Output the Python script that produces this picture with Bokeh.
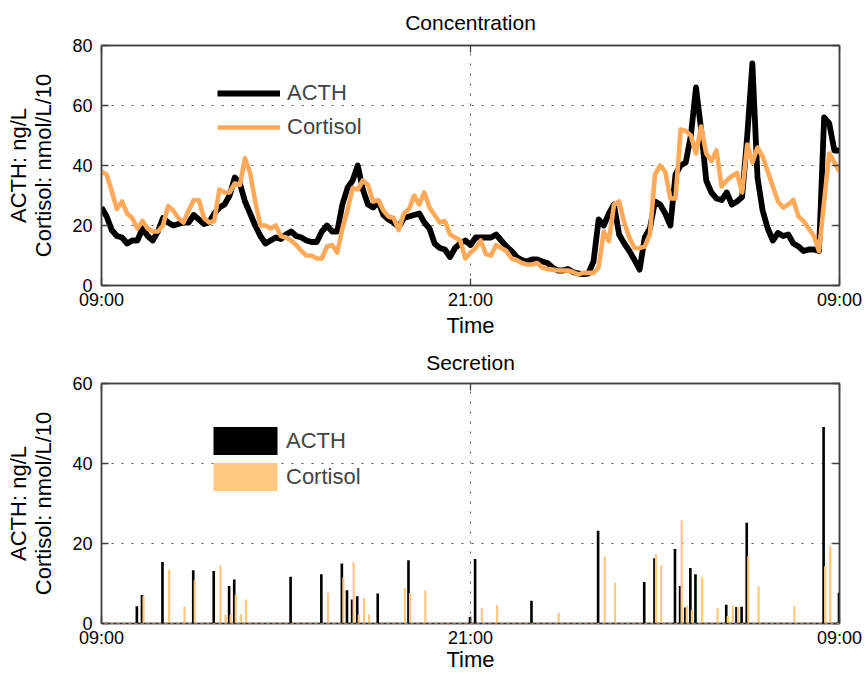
import numpy as np
from bokeh.plotting import figure
from bokeh.models import (Range1d, FixedTicker, LinearAxis, Legend, LegendItem, Span,
                          ColumnDataSource)
from bokeh.layouts import column
from bokeh.embed import file_html
from bokeh.resources import INLINE

FONT = "Liberation Sans"

# ---------------- data ----------------
tick_hours = [0, 12, 24]
tick_labels = ["09:00", "21:00", "09:00"]

# concentration samples every 10 minutes from 09:00 to 09:00
conc_minutes = list(range(0, 1441, 10))

acth_conc = [
    26, 23, 18.5, 16.5, 16, 14, 15, 15, 19, 16.5, 15, 18,
    22.5, 21, 20, 20.5, 21, 21, 23.5, 22, 20.5, 21, 24, 26,
    27, 30, 36, 34, 28, 24, 20, 16.5, 14, 15, 16, 15.5,
    17, 18, 16.5, 16, 15, 14.5, 14.5, 18, 20, 18, 18, 27,
    32.5, 35, 40, 32, 27, 26, 28, 23.5, 22, 21, 19.5, 22.5,
    23, 23.5, 24, 21, 19, 14, 12.5, 12, 9.5, 12.5, 14, 15,
    13.5, 16, 16, 16, 16, 17, 15, 13, 11.5, 9.5, 8.5, 8,
    8.7, 8.7, 8, 7.5, 6, 5, 5, 5.5, 4.5, 4, 3.8, 4,
    8, 22, 20, 24, 27, 17, 14, 11.5, 8.5, 5.3, 16, 19,
    28, 27, 24, 20, 37, 40, 41, 50, 66, 52, 35, 31,
    29, 28.5, 31, 27, 28, 29.5, 50, 74, 36, 25, 19, 15,
    17.5, 16.5, 17, 14, 13, 11.5, 12, 12, 11.5, 56, 54, 45,
    45,
]

cort_conc = [
    38, 37, 31.5, 25.5, 28, 24, 22.5, 19, 21.5, 19, 18, 18,
    20, 26.5, 25, 22.5, 21, 25, 28.5, 28.5, 22.5, 21, 21.5, 32,
    31, 31, 34, 33.5, 42.5, 37.5, 28, 20, 20, 19, 20, 16.5,
    16, 15, 13.5, 11.5, 10, 10, 9, 9, 13, 13.5, 11, 19,
    25, 32.5, 32, 35, 33.5, 28, 28.5, 25, 23, 22.5, 18.5, 24,
    25.5, 30, 27, 31, 26, 23.5, 21, 21.5, 17, 16, 15, 9,
    11, 12.5, 15, 10.5, 10, 13.5, 12.5, 11.5, 9, 8.5, 7.5, 7,
    7, 7.5, 6, 5.5, 5.3, 5, 5, 5, 4.5, 3.7, 4.2, 4.2,
    4.2, 6, 18, 14.8, 27, 28, 21, 16, 12.5, 12.5, 13, 17,
    37, 40, 38, 29, 29, 52, 51.5, 50, 44, 53, 44, 41.5,
    45, 33, 35, 36.5, 37.5, 31, 47, 41, 46, 43, 38, 33,
    28, 26, 27, 28.5, 23, 21.5, 19, 16.5, 11.5, 28, 44, 41,
    38,
]

# secretion pulses (minutes after 09:00, amplitude)
acth_sec_min = [70, 80, 120, 180, 220, 250, 260, 370, 430, 470, 480, 490, 500, 540, 600,
                720, 730, 840, 970, 1060, 1080, 1120, 1130, 1140, 1150, 1160, 1220, 1240,
                1250, 1260, 1410, 1440]
acth_sec = [4.3, 7.1, 15.4, 13.3, 13.1, 9.4, 11, 11.7, 12.3, 15, 8.3, 6, 6.8, 7.5, 15.8,
            1.6, 16.1, 5.7, 23.2, 10.4, 16.3, 18.6, 9.4, 4, 13.9, 12.3, 4.7, 4.1,
            4.2, 25.2, 49.1, 7.7]

cort_sec_min = [80, 130, 160, 180, 230, 240, 250, 260, 270, 280, 440, 470, 490, 500, 510,
                520, 590, 600, 630, 740, 770, 890, 980, 1000, 1080, 1090, 1130, 1140, 1150,
                1170, 1200, 1220, 1230, 1240, 1260, 1280, 1350, 1410, 1420]
cort_sec = [6.8, 13.5, 4.2, 10.8, 14.5, 2.3, 2.1, 7.2, 2.3, 6, 7.7, 11.5, 15.3, 2.2, 6.4,
            2.3, 8.9, 7.6, 8.3, 3.9, 4.6, 2.7, 16.7, 10.2, 17.4, 14.5, 25.8, 4.4, 3.3,
            11.5, 3.9, 1.9, 4.4, 4.1, 16.8, 9.3, 4.3, 14.3, 19.3]

ACTH_COLOR = "black"
CORT_LINE = "#FFAA5A"
CORT_BAR = "#FFC97F"
FRAME = "#404040"
GRID = "#555555"


def side_axis(ticks):
    # tick marks only (labels hidden)
    return LinearAxis(ticker=FixedTicker(ticks=ticks), major_label_text_font_size="1px",
                      major_label_text_color=None, major_label_standoff=0,
                      major_tick_in=7, major_tick_out=0, minor_tick_line_color=None,
                      axis_line_color=FRAME, axis_line_width=1.5,
                      major_tick_line_color=FRAME, major_tick_line_width=1.3)


def make_fig(title, ymax, yticks, height, btop, bbottom, xlabel_standoff, title_standoff):
    p = figure(width=865, height=height, x_range=Range1d(0, 24), y_range=Range1d(0, ymax),
               output_backend="svg", toolbar_location=None, title=title,
               min_border_left=101, min_border_right=26,
               min_border_top=btop, min_border_bottom=bbottom)
    p.title.align = "center"
    p.title.vertical_align = "top"
    p.title.text_font = FONT
    p.title.text_font_size = "21px"
    p.title.text_font_style = "normal"
    p.title.text_color = "black"
    p.title.standoff = title_standoff
    p.outline_line_color = FRAME
    p.outline_line_width = 1.5
    p.background_fill_color = "white"
    p.border_fill_color = "white"

    xax = p.xaxis[0]
    xax.ticker = FixedTicker(ticks=tick_hours)
    xax.major_label_overrides = {h: l for h, l in zip(tick_hours, tick_labels)}
    xax.axis_label = "Time"
    yax = p.yaxis[0]
    yax.ticker = FixedTicker(ticks=yticks)
    yax.axis_label = "Cortisol: nmol/L/10"
    for ax in (xax, yax):
        ax.major_tick_in = 7
        ax.major_tick_out = 0
        ax.minor_tick_line_color = None
        ax.axis_line_color = FRAME
        ax.axis_line_width = 1.5
        ax.major_tick_line_color = FRAME
        ax.major_tick_line_width = 1.3
        ax.major_label_text_font = FONT
        ax.major_label_text_font_size = "18px"
        ax.major_label_text_color = "black"
        ax.axis_label_text_font = FONT
        ax.axis_label_text_font_size = "22px"
        ax.axis_label_text_font_style = "normal"
        ax.axis_label_text_color = "black"
    xax.major_label_standoff = 4
    xax.axis_label_standoff = xlabel_standoff
    yax.major_label_standoff = 9
    yax.axis_label_standoff = 13

    extra = LinearAxis(ticker=FixedTicker(ticks=[]), axis_label="ACTH: ng/L",
                       axis_line_color=None, major_tick_line_color=None,
                       major_tick_in=0, major_tick_out=0, major_label_standoff=0,
                       minor_tick_line_color=None, major_label_text_font_size="1px",
                       major_label_text_color=None,
                       axis_label_standoff=-2, axis_label_text_font=FONT,
                       axis_label_text_font_size="22px", axis_label_text_font_style="normal",
                       axis_label_text_color="black")
    p.add_layout(extra, "left")
    p.add_layout(side_axis(yticks), "right")
    p.add_layout(side_axis(tick_hours), "above")

    p.xgrid[0].ticker = FixedTicker(ticks=[12])
    p.ygrid[0].ticker = FixedTicker(ticks=[t for t in yticks if 0 < t < ymax])
    for g in (p.xgrid[0], p.ygrid[0]):
        g.grid_line_color = GRID
        g.grid_line_dash = "2 8"
        g.grid_line_width = 1
    return p


# ---------------- concentration ----------------
p1 = make_fig("Concentration", 80, [0, 20, 40, 60, 80], 342, 45, 57, 0, 20)
conc_hours = [m / 60 for m in conc_minutes]
src = ColumnDataSource(dict(t=conc_hours, acth=acth_conc, cort=cort_conc))
r_a = p1.line("t", "acth", source=src, line_color=ACTH_COLOR, line_width=5.8, line_join="round")
r_c = p1.line("t", "cort", source=src, line_color=CORT_LINE, line_width=4.6, line_join="round")
leg1 = Legend(items=[LegendItem(label="ACTH", renderers=[r_a]),
                     LegendItem(label="Cortisol", renderers=[r_c])],
              location=(116, 141), glyph_width=63, glyph_height=34, label_height=34,
              spacing=0, padding=0, margin=0, border_line_color=None,
              background_fill_alpha=0, label_text_font=FONT, label_text_font_size="22px",
              label_standoff=7)
p1.add_layout(leg1)

# ---------------- secretion ----------------
p2 = make_fig("Secretion", 60, [0, 20, 40, 60], 333, 41, 52, -4, 15)
asrc = ColumnDataSource(dict(t=[m / 60 - 0.017 for m in acth_sec_min], v=acth_sec))
csrc = ColumnDataSource(dict(t=[m / 60 + 0.033 for m in cort_sec_min], v=cort_sec))
b_a = p2.vbar(x="t", top="v", bottom=0, width=0.085, source=asrc,
              fill_color=ACTH_COLOR, line_color=None)
b_c = p2.vbar(x="t", top="v", bottom=0, width=0.072, source=csrc,
              fill_color=CORT_BAR, line_color=None)
p2.add_layout(Span(location=0, dimension="width", line_color="#222222", line_width=1.2,
                   line_dash="3 3"))
p2.add_layout(Span(location=0, dimension="width", line_color=CORT_BAR, line_width=1.2,
                   line_dash="3 3", line_dash_offset=3))
leg2 = Legend(items=[LegendItem(label="ACTH", renderers=[b_a]),
                     LegendItem(label="Cortisol", renderers=[b_c])],
              location=(104, 129), glyph_width=80, glyph_height=35, label_height=35,
              spacing=1, padding=0, margin=0, border_line_color=None,
              background_fill_alpha=0, label_text_font=FONT, label_text_font_size="22px",
              label_standoff=1)
p2.add_layout(leg2)

layout = column(p1, p2)
open("out.html", "w").write(file_html(layout, INLINE))
